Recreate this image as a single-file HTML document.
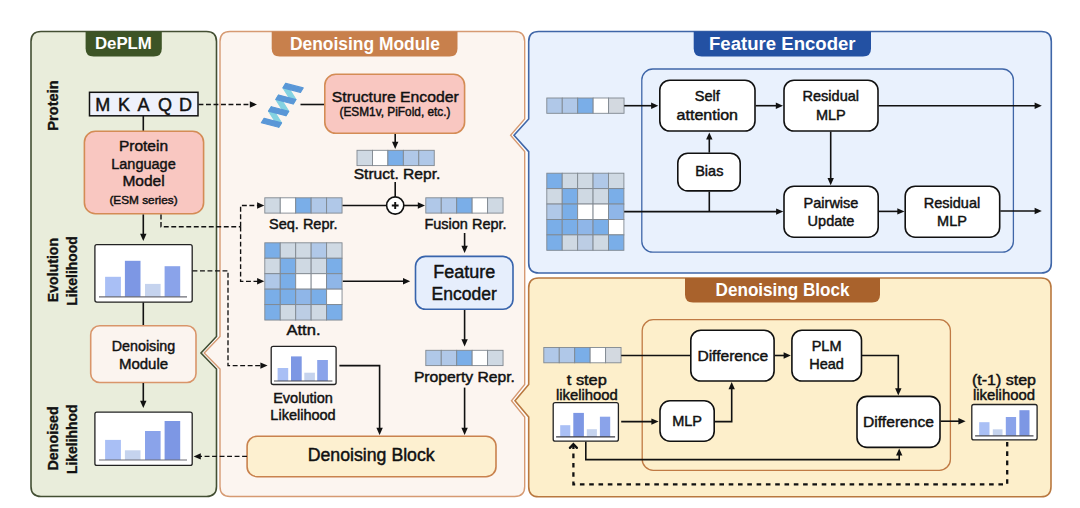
<!DOCTYPE html>
<html><head><meta charset="utf-8"><title>DePLM</title>
<style>
html,body{margin:0;padding:0;background:#fff;}
body{width:1080px;height:508px;overflow:hidden;font-family:"Liberation Sans",sans-serif;}
svg{display:block;}
svg text{font-family:"Liberation Sans",sans-serif;}
</style></head><body>
<svg width="1080" height="508" viewBox="0 0 1080 508">
<rect width="1080" height="508" fill="#ffffff"/>
<path d="M41,31.5 H206.5 Q216.5,31.5 216.5,41.5 V336.5 L201,353 L216.5,369 V486.5 Q216.5,496.5 206.5,496.5 H41 Q31,496.5 31,486.5 V41.5 Q31,31.5 41,31.5 Z" fill="#e9eddb" stroke="#434f33" stroke-width="1.6"/>
<path d="M230,31.5 H514.7 Q524.7,31.5 524.7,41.5 V119 L510.6,135.3 L524.7,151.6 V384.5 L511.5,400.7 L524.7,417 V486.5 Q524.7,496.5 514.7,496.5 H230 Q220,496.5 220,486.5 V369 L204.2,353 L220,336.5 V41.5 Q220,31.5 230,31.5 Z" fill="#fcf5f0" stroke="#d69a72" stroke-width="1.4"/>
<path d="M538.7,31.5 H1041.3 Q1051.3,31.5 1051.3,41.5 V263 Q1051.3,273 1041.3,273 H538.7 Q528.7,273 528.7,263 V151.6 L514,135.3 L528.7,119 V41.5 Q528.7,31.5 538.7,31.5 Z" fill="#e9f1fd" stroke="#3f66a8" stroke-width="1.6"/>
<path d="M538.7,278 H1041 Q1051,278 1051,288 V486.8 Q1051,496.8 1041,496.8 H538.7 Q528.7,496.8 528.7,486.8 V417 L515,400.7 L528.7,384.5 V288 Q528.7,278 538.7,278 Z" fill="#fdefcb" stroke="#b9783f" stroke-width="1.6"/>
<path d="M85.6,31.5 H161.8 V48.5 Q161.8,56.5 153.8,56.5 H93.6 Q85.6,56.5 85.6,48.5 Z" fill="#3d5426"/>
<path d="M271.7,31.5 H457.5 V48.5 Q457.5,56.5 449.5,56.5 H279.7 Q271.7,56.5 271.7,48.5 Z" fill="#c8804c"/>
<path d="M693.7,31.5 H871 V48.5 Q871,56.5 863,56.5 H701.7 Q693.7,56.5 693.7,48.5 Z" fill="#2351a3"/>
<path d="M685,278 H880 V294.6 Q880,302.6 872,302.6 H693 Q685,302.6 685,294.6 Z" fill="#a9622c"/>
<text x="123.4" y="43.8" font-size="17" font-weight="bold" fill="#fff" text-anchor="middle" dominant-baseline="central" textLength="57" lengthAdjust="spacingAndGlyphs" >DePLM</text>
<text x="364.9" y="44" font-size="17.5" font-weight="bold" fill="#fff" text-anchor="middle" dominant-baseline="central" textLength="150" lengthAdjust="spacingAndGlyphs" >Denoising Module</text>
<text x="782.3" y="44" font-size="17.5" font-weight="bold" fill="#fff" text-anchor="middle" dominant-baseline="central" textLength="146.6" lengthAdjust="spacingAndGlyphs" >Feature Encoder</text>
<text x="782.6" y="290.4" font-size="17.5" font-weight="bold" fill="#fff" text-anchor="middle" dominant-baseline="central" textLength="134" lengthAdjust="spacingAndGlyphs" >Denoising Block</text>
<text transform="translate(58.1,105.5) rotate(-90)" font-size="15" font-weight="bold" fill="#111" stroke="#111" stroke-width="0.35" text-anchor="middle" textLength="50.4" lengthAdjust="spacingAndGlyphs">Protein</text>
<text transform="translate(58.4,270.1) rotate(-90)" font-size="15" font-weight="bold" fill="#111" stroke="#111" stroke-width="0.35" text-anchor="middle" textLength="64.3" lengthAdjust="spacingAndGlyphs">Evolution</text>
<text transform="translate(76.7,271) rotate(-90)" font-size="15" font-weight="bold" fill="#111" stroke="#111" stroke-width="0.35" text-anchor="middle" textLength="69.6" lengthAdjust="spacingAndGlyphs">Likelihood</text>
<text transform="translate(58.4,438.4) rotate(-90)" font-size="15" font-weight="bold" fill="#111" stroke="#111" stroke-width="0.35" text-anchor="middle" textLength="64.3" lengthAdjust="spacingAndGlyphs">Denoised</text>
<text transform="translate(76.7,439.2) rotate(-90)" font-size="15" font-weight="bold" fill="#111" stroke="#111" stroke-width="0.35" text-anchor="middle" textLength="69.6" lengthAdjust="spacingAndGlyphs">Likelihhod</text>
<rect x="89.5" y="92.3" width="108.50" height="23.50" rx="0" fill="#eef1fb" stroke="#111" stroke-width="1.5"/>
<text x="102.8" y="105.2" font-size="18" font-weight="normal" fill="#111" stroke="#111" stroke-width="0.45" text-anchor="middle" dominant-baseline="central" >M</text>
<text x="124" y="105.2" font-size="18" font-weight="normal" fill="#111" stroke="#111" stroke-width="0.45" text-anchor="middle" dominant-baseline="central" >K</text>
<text x="143.4" y="105.2" font-size="18" font-weight="normal" fill="#111" stroke="#111" stroke-width="0.45" text-anchor="middle" dominant-baseline="central" >A</text>
<text x="165.1" y="105.2" font-size="18" font-weight="normal" fill="#111" stroke="#111" stroke-width="0.45" text-anchor="middle" dominant-baseline="central" >Q</text>
<text x="185.6" y="105.2" font-size="18" font-weight="normal" fill="#111" stroke="#111" stroke-width="0.45" text-anchor="middle" dominant-baseline="central" >D</text>
<line x1="143.3" y1="116" x2="143.3" y2="131" stroke="#111" stroke-width="1.6"/>
<rect x="84.4" y="131.3" width="119.20" height="82.40" rx="11" fill="#f9c7c1" stroke="#d48c55" stroke-width="1.6"/>
<text x="143.5" y="145.4" font-size="15.5" font-weight="normal" fill="#111" stroke="#111" stroke-width="0.45" text-anchor="middle" dominant-baseline="central" >Protein</text>
<text x="143.5" y="163.1" font-size="15.5" font-weight="normal" fill="#111" stroke="#111" stroke-width="0.45" text-anchor="middle" dominant-baseline="central" textLength="64.5" lengthAdjust="spacingAndGlyphs" >Language</text>
<text x="143.5" y="180.8" font-size="15.5" font-weight="normal" fill="#111" stroke="#111" stroke-width="0.45" text-anchor="middle" dominant-baseline="central" >Model</text>
<text x="143.5" y="199.6" font-size="11.8" font-weight="normal" fill="#111" stroke="#111" stroke-width="0.45" text-anchor="middle" dominant-baseline="central" >(ESM series)</text>
<path d="M143.30,214.50 L143.30,235.96" fill="none" stroke="#111" stroke-width="1.6"/>
<path d="M143.30,241.00 L140.10,233.80 L146.50,233.80 Z" fill="#111"/>
<rect x="94.9" y="244.7" width="97.3" height="57.4" rx="2" fill="#fff" stroke="#222" stroke-width="1.3"/><rect x="105.1" y="276.8" width="15.80" height="20.10" fill="#a9bff5"/><rect x="124.9" y="260.8" width="15.60" height="36.10" fill="#7d97e4"/><rect x="145" y="283.9" width="15.60" height="13.00" fill="#c5d3ee"/><rect x="164.6" y="266.2" width="15.60" height="30.70" fill="#8aa3ea"/><line x1="99" y1="296.9" x2="187" y2="296.9" stroke="#6c6c74" stroke-width="1.2"/>
<line x1="143.3" y1="302.5" x2="143.3" y2="325.5" stroke="#111" stroke-width="1.6"/>
<rect x="90.7" y="325.8" width="105.30" height="56.70" rx="9" fill="#fbf4ef" stroke="#d9956a" stroke-width="1.6"/>
<text x="143.5" y="345.4" font-size="15" font-weight="normal" fill="#111" stroke="#111" stroke-width="0.45" text-anchor="middle" dominant-baseline="central" textLength="63.5" lengthAdjust="spacingAndGlyphs" >Denoising</text>
<text x="143.5" y="363.1" font-size="15" font-weight="normal" fill="#111" stroke="#111" stroke-width="0.45" text-anchor="middle" dominant-baseline="central" >Module</text>
<path d="M143.30,383.00 L143.30,402.96" fill="none" stroke="#111" stroke-width="1.6"/>
<path d="M143.30,408.00 L140.10,400.80 L146.50,400.80 Z" fill="#111"/>
<rect x="94.9" y="412.1" width="97.3" height="53.3" rx="2" fill="#fff" stroke="#222" stroke-width="1.3"/><rect x="105.1" y="439.9" width="15.80" height="20.10" fill="#a9bff5"/><rect x="124.9" y="450.3" width="15.60" height="9.70" fill="#c5d3ee"/><rect x="145" y="431" width="15.60" height="29.00" fill="#8aa3ea"/><rect x="164.6" y="421" width="15.60" height="39.00" fill="#7d97e4"/><line x1="99" y1="460" x2="187" y2="460" stroke="#6c6c74" stroke-width="1.2"/>
<path d="M198.50,104.50 L251.96,104.50" fill="none" stroke="#111" stroke-width="1.35" stroke-dasharray="4.9,2.6"/>
<path d="M257.00,104.50 L249.80,107.70 L249.80,101.30 Z" fill="#111"/>
<g><path d="M283.03,87.81 L285.77,83.39 L295.95,99.55 L293.21,103.97 Z" fill="#84d2e1" stroke="#84d2e1" stroke-width="1.2" stroke-linejoin="round"/><path d="M275.81,99.47 L278.55,95.05 L288.73,111.21 L285.99,115.63 Z" fill="#84d2e1" stroke="#84d2e1" stroke-width="1.2" stroke-linejoin="round"/><path d="M268.59,111.13 L271.33,106.71 L281.51,122.87 L278.77,127.29 Z" fill="#84d2e1" stroke="#84d2e1" stroke-width="1.2" stroke-linejoin="round"/><path d="M283.03,87.81 L285.77,83.39 L303.17,87.89 L300.43,92.31 Z" fill="#5a97d7" stroke="#5a97d7" stroke-width="1.2" stroke-linejoin="round"/><path d="M275.81,99.47 L278.55,95.05 L295.95,99.55 L293.21,103.97 Z" fill="#5a97d7" stroke="#5a97d7" stroke-width="1.2" stroke-linejoin="round"/><path d="M268.59,111.13 L271.33,106.71 L288.73,111.21 L285.99,115.63 Z" fill="#5a97d7" stroke="#5a97d7" stroke-width="1.2" stroke-linejoin="round"/><path d="M261.37,122.79 L264.11,118.37 L281.51,122.87 L278.77,127.29 Z" fill="#5a97d7" stroke="#5a97d7" stroke-width="1.2" stroke-linejoin="round"/></g>
<line x1="300.5" y1="104.5" x2="325" y2="104.5" stroke="#111" stroke-width="1.6"/>
<rect x="324.8" y="74.3" width="139.80" height="59.00" rx="11" fill="#f9c7c1" stroke="#d48c55" stroke-width="1.6"/>
<text x="395.3" y="96.3" font-size="15.5" font-weight="normal" fill="#111" stroke="#111" stroke-width="0.45" text-anchor="middle" dominant-baseline="central" textLength="127" lengthAdjust="spacingAndGlyphs" >Structure Encoder</text>
<text x="395" y="112.1" font-size="12" font-weight="normal" fill="#111" stroke="#111" stroke-width="0.45" text-anchor="middle" dominant-baseline="central" textLength="111" lengthAdjust="spacingAndGlyphs" >(ESM1v, PiFold, etc.)</text>
<path d="M395.20,134.00 L395.20,143.96" fill="none" stroke="#111" stroke-width="1.6"/>
<path d="M395.20,149.00 L392.00,141.80 L398.40,141.80 Z" fill="#111"/>
<g stroke="#808890" stroke-width="0.9"><rect x="357.00" y="150.30" width="15.45" height="15.30" fill="#cfd9e3"/><rect x="372.45" y="150.30" width="15.45" height="15.30" fill="#ffffff"/><rect x="387.90" y="150.30" width="15.45" height="15.30" fill="#7aaee8"/><rect x="403.35" y="150.30" width="15.45" height="15.30" fill="#b0c8e8"/><rect x="418.80" y="150.30" width="15.45" height="15.30" fill="#b0c8e8"/></g>
<text x="397" y="174.1" font-size="14.5" font-weight="normal" fill="#111" stroke="#111" stroke-width="0.45" text-anchor="middle" dominant-baseline="central" textLength="86.7" lengthAdjust="spacingAndGlyphs" >Struct. Repr.</text>
<line x1="395.2" y1="182" x2="395.2" y2="197" stroke="#111" stroke-width="1.6"/>
<g stroke="#808890" stroke-width="0.9"><rect x="264.80" y="197.80" width="15.45" height="15.30" fill="#cfd9e3"/><rect x="280.25" y="197.80" width="15.45" height="15.30" fill="#ffffff"/><rect x="295.70" y="197.80" width="15.45" height="15.30" fill="#7aaee8"/><rect x="311.15" y="197.80" width="15.45" height="15.30" fill="#b0c8e8"/><rect x="326.60" y="197.80" width="15.45" height="15.30" fill="#b0c8e8"/></g>
<text x="303.3" y="223.7" font-size="14.5" font-weight="normal" fill="#111" stroke="#111" stroke-width="0.45" text-anchor="middle" dominant-baseline="central" >Seq. Repr.</text>
<line x1="342.5" y1="205.5" x2="386.5" y2="205.5" stroke="#111" stroke-width="1.6"/>
<circle cx="395.2" cy="205.5" r="8.6" fill="#fff" stroke="#111" stroke-width="1.6"/>
<path d="M391.8,205.5 H398.6 M395.2,202.1 V208.9" stroke="#111" stroke-width="1.9"/>
<path d="M404.00,205.50 L419.96,205.50" fill="none" stroke="#111" stroke-width="1.6"/>
<path d="M425.00,205.50 L417.80,208.70 L417.80,202.30 Z" fill="#111"/>
<g stroke="#808890" stroke-width="0.9"><rect x="425.80" y="197.80" width="15.45" height="15.30" fill="#b0c8e8"/><rect x="441.25" y="197.80" width="15.45" height="15.30" fill="#b0c8e8"/><rect x="456.70" y="197.80" width="15.45" height="15.30" fill="#7aaee8"/><rect x="472.15" y="197.80" width="15.45" height="15.30" fill="#ffffff"/><rect x="487.60" y="197.80" width="15.45" height="15.30" fill="#cfd9e3"/></g>
<text x="465.5" y="223.7" font-size="14.5" font-weight="normal" fill="#111" stroke="#111" stroke-width="0.45" text-anchor="middle" dominant-baseline="central" >Fusion Repr.</text>
<path d="M464.60,233.00 L464.60,247.96" fill="none" stroke="#111" stroke-width="1.6"/>
<path d="M464.60,253.00 L461.40,245.80 L467.80,245.80 Z" fill="#111"/>
<g stroke="#808890" stroke-width="0.9"><rect x="264.80" y="242.80" width="15.45" height="15.45" fill="#7aaee8"/><rect x="280.25" y="242.80" width="15.45" height="15.45" fill="#cfd9e3"/><rect x="295.70" y="242.80" width="15.45" height="15.45" fill="#cfd9e3"/><rect x="311.15" y="242.80" width="15.45" height="15.45" fill="#b0c8e8"/><rect x="326.60" y="242.80" width="15.45" height="15.45" fill="#cfd9e3"/><rect x="264.80" y="258.25" width="15.45" height="15.45" fill="#cfd9e3"/><rect x="280.25" y="258.25" width="15.45" height="15.45" fill="#7aaee8"/><rect x="295.70" y="258.25" width="15.45" height="15.45" fill="#cfd9e3"/><rect x="311.15" y="258.25" width="15.45" height="15.45" fill="#cfd9e3"/><rect x="326.60" y="258.25" width="15.45" height="15.45" fill="#7aaee8"/><rect x="264.80" y="273.70" width="15.45" height="15.45" fill="#b0c8e8"/><rect x="280.25" y="273.70" width="15.45" height="15.45" fill="#7aaee8"/><rect x="295.70" y="273.70" width="15.45" height="15.45" fill="#ffffff"/><rect x="311.15" y="273.70" width="15.45" height="15.45" fill="#ffffff"/><rect x="326.60" y="273.70" width="15.45" height="15.45" fill="#8fb6e8"/><rect x="264.80" y="289.15" width="15.45" height="15.45" fill="#7aaee8"/><rect x="280.25" y="289.15" width="15.45" height="15.45" fill="#7aaee8"/><rect x="295.70" y="289.15" width="15.45" height="15.45" fill="#8fb6e8"/><rect x="311.15" y="289.15" width="15.45" height="15.45" fill="#7aaee8"/><rect x="326.60" y="289.15" width="15.45" height="15.45" fill="#ffffff"/><rect x="264.80" y="304.60" width="15.45" height="15.45" fill="#7aaee8"/><rect x="280.25" y="304.60" width="15.45" height="15.45" fill="#cfd9e3"/><rect x="295.70" y="304.60" width="15.45" height="15.45" fill="#bccde4"/><rect x="311.15" y="304.60" width="15.45" height="15.45" fill="#cfd9e3"/><rect x="326.60" y="304.60" width="15.45" height="15.45" fill="#7aaee8"/></g>
<text x="303.5" y="329.6" font-size="14.5" font-weight="normal" fill="#111" stroke="#111" stroke-width="0.45" text-anchor="middle" dominant-baseline="central" textLength="34" lengthAdjust="spacingAndGlyphs" >Attn.</text>
<path d="M342.80,281.30 L405.16,281.30" fill="none" stroke="#111" stroke-width="1.6"/>
<path d="M410.20,281.30 L403.00,284.50 L403.00,278.10 Z" fill="#111"/>
<rect x="415.5" y="256.4" width="97.50" height="52.90" rx="10" fill="#e6eefc" stroke="#3864ac" stroke-width="1.6"/>
<text x="464.2" y="271.8" font-size="17.5" font-weight="normal" fill="#111" stroke="#111" stroke-width="0.45" text-anchor="middle" dominant-baseline="central" textLength="62" lengthAdjust="spacingAndGlyphs" >Feature</text>
<text x="464.2" y="293.9" font-size="17.5" font-weight="normal" fill="#111" stroke="#111" stroke-width="0.45" text-anchor="middle" dominant-baseline="central" textLength="65.2" lengthAdjust="spacingAndGlyphs" >Encoder</text>
<path d="M464.60,310.00 L464.60,341.46" fill="none" stroke="#111" stroke-width="1.6"/>
<path d="M464.60,346.50 L461.40,339.30 L467.80,339.30 Z" fill="#111"/>
<g stroke="#808890" stroke-width="0.9"><rect x="425.80" y="350.30" width="15.45" height="15.30" fill="#b0c8e8"/><rect x="441.25" y="350.30" width="15.45" height="15.30" fill="#b0c8e8"/><rect x="456.70" y="350.30" width="15.45" height="15.30" fill="#7aaee8"/><rect x="472.15" y="350.30" width="15.45" height="15.30" fill="#ffffff"/><rect x="487.60" y="350.30" width="15.45" height="15.30" fill="#cfd9e3"/></g>
<text x="464.4" y="376.5" font-size="14.5" font-weight="normal" fill="#111" stroke="#111" stroke-width="0.45" text-anchor="middle" dominant-baseline="central" textLength="101" lengthAdjust="spacingAndGlyphs" >Property Repr.</text>
<path d="M464.60,387.60 L464.60,429.96" fill="none" stroke="#111" stroke-width="1.6"/>
<path d="M464.60,435.00 L461.40,427.80 L467.80,427.80 Z" fill="#111"/>
<path d="M161,214.5 V226.7 H240.6" fill="none" stroke="#111" stroke-width="1.4" stroke-dasharray="4.9,2.6"/>
<path d="M240.60,226.70 L240.60,205.50 L259.26,205.50" fill="none" stroke="#111" stroke-width="1.35" stroke-dasharray="4.9,2.6"/>
<path d="M264.30,205.50 L257.10,208.70 L257.10,202.30 Z" fill="#111"/>
<path d="M240.60,226.70 L240.60,281.30 L259.26,281.30" fill="none" stroke="#111" stroke-width="1.35" stroke-dasharray="4.9,2.6"/>
<path d="M264.30,281.30 L257.10,284.50 L257.10,278.10 Z" fill="#111"/>
<path d="M192.50,270.80 L228.00,270.80 L228.00,365.60 L262.56,365.60" fill="none" stroke="#111" stroke-width="1.35" stroke-dasharray="4.9,2.6"/>
<path d="M267.60,365.60 L260.40,368.80 L260.40,362.40 Z" fill="#111"/>
<rect x="271.2" y="346.3" width="64.9" height="38.2" rx="2" fill="#fff" stroke="#222" stroke-width="1.3"/><rect x="277.6" y="368" width="10.60" height="13.00" fill="#a9bff5"/><rect x="291" y="356.4" width="10.70" height="24.60" fill="#7d97e4"/><rect x="304.3" y="372.7" width="10.60" height="8.30" fill="#c5d3ee"/><rect x="317.2" y="360" width="10.70" height="21.00" fill="#8aa3ea"/><line x1="274" y1="381" x2="332.4" y2="381" stroke="#4a4a52" stroke-width="1.2"/>
<text x="303" y="398.2" font-size="14.5" font-weight="normal" fill="#111" stroke="#111" stroke-width="0.45" text-anchor="middle" dominant-baseline="central" >Evolution</text>
<text x="303" y="414.7" font-size="14.5" font-weight="normal" fill="#111" stroke="#111" stroke-width="0.45" text-anchor="middle" dominant-baseline="central" >Likelihood</text>
<path d="M339.40,365.60 L379.60,365.60 L379.60,429.96" fill="none" stroke="#111" stroke-width="1.6"/>
<path d="M379.60,435.00 L376.40,427.80 L382.80,427.80 Z" fill="#111"/>
<rect x="247.1" y="436.2" width="248.90" height="40.50" rx="10" fill="#fdf0d0" stroke="#c9824e" stroke-width="1.6"/>
<text x="371.2" y="455" font-size="17.5" font-weight="normal" fill="#111" stroke="#111" stroke-width="0.45" text-anchor="middle" dominant-baseline="central" textLength="127" lengthAdjust="spacingAndGlyphs" >Denoising Block</text>
<path d="M247.00,456.40 L198.64,456.40" fill="none" stroke="#111" stroke-width="1.35" stroke-dasharray="4.9,2.6"/>
<path d="M193.60,456.40 L200.80,453.20 L200.80,459.60 Z" fill="#111"/>
<rect x="641.8" y="69" width="371.60" height="183.20" rx="11" fill="none" stroke="#3f66a8" stroke-width="1.3"/>
<g stroke="#808890" stroke-width="0.9"><rect x="546.80" y="98.00" width="15.45" height="15.30" fill="#b0c8e8"/><rect x="562.25" y="98.00" width="15.45" height="15.30" fill="#b0c8e8"/><rect x="577.70" y="98.00" width="15.45" height="15.30" fill="#7aaee8"/><rect x="593.15" y="98.00" width="15.45" height="15.30" fill="#ffffff"/><rect x="608.60" y="98.00" width="15.45" height="15.30" fill="#d3d9e0"/></g>
<path d="M624.20,105.70 L653.26,105.70" fill="none" stroke="#111" stroke-width="1.6"/>
<path d="M658.30,105.70 L651.10,108.90 L651.10,102.50 Z" fill="#111"/>
<rect x="659.8" y="80.2" width="95.20" height="50.80" rx="10" fill="#fff" stroke="#111" stroke-width="1.6"/>
<text x="707.3" y="96" font-size="14.5" font-weight="normal" fill="#111" stroke="#111" stroke-width="0.45" text-anchor="middle" dominant-baseline="central" >Self</text>
<text x="707.3" y="114.5" font-size="14.5" font-weight="normal" fill="#111" stroke="#111" stroke-width="0.45" text-anchor="middle" dominant-baseline="central" textLength="61.4" lengthAdjust="spacingAndGlyphs" >attention</text>
<path d="M755.60,105.70 L777.96,105.70" fill="none" stroke="#111" stroke-width="1.6"/>
<path d="M783.00,105.70 L775.80,108.90 L775.80,102.50 Z" fill="#111"/>
<rect x="784" y="80.2" width="94.00" height="50.80" rx="10" fill="#fff" stroke="#111" stroke-width="1.6"/>
<text x="830.8" y="96" font-size="14.5" font-weight="normal" fill="#111" stroke="#111" stroke-width="0.45" text-anchor="middle" dominant-baseline="central" >Residual</text>
<text x="830.8" y="114.5" font-size="14.5" font-weight="normal" fill="#111" stroke="#111" stroke-width="0.45" text-anchor="middle" dominant-baseline="central" >MLP</text>
<path d="M878.60,105.70 L1036.76,105.70" fill="none" stroke="#111" stroke-width="1.6"/>
<path d="M1041.80,105.70 L1034.60,108.90 L1034.60,102.50 Z" fill="#111"/>
<path d="M830.70,131.60 L830.70,180.26" fill="none" stroke="#111" stroke-width="1.6"/>
<path d="M830.70,185.30 L827.50,178.10 L833.90,178.10 Z" fill="#111"/>
<g stroke="#808890" stroke-width="0.9"><rect x="546.80" y="173.20" width="15.42" height="15.42" fill="#7aaee8"/><rect x="562.22" y="173.20" width="15.42" height="15.42" fill="#cfd9e3"/><rect x="577.64" y="173.20" width="15.42" height="15.42" fill="#cfd9e3"/><rect x="593.06" y="173.20" width="15.42" height="15.42" fill="#b0c8e8"/><rect x="608.48" y="173.20" width="15.42" height="15.42" fill="#cfd9e3"/><rect x="546.80" y="188.62" width="15.42" height="15.42" fill="#cfd9e3"/><rect x="562.22" y="188.62" width="15.42" height="15.42" fill="#7aaee8"/><rect x="577.64" y="188.62" width="15.42" height="15.42" fill="#cfd9e3"/><rect x="593.06" y="188.62" width="15.42" height="15.42" fill="#cfd9e3"/><rect x="608.48" y="188.62" width="15.42" height="15.42" fill="#7aaee8"/><rect x="546.80" y="204.04" width="15.42" height="15.42" fill="#b0c8e8"/><rect x="562.22" y="204.04" width="15.42" height="15.42" fill="#7aaee8"/><rect x="577.64" y="204.04" width="15.42" height="15.42" fill="#ffffff"/><rect x="593.06" y="204.04" width="15.42" height="15.42" fill="#ffffff"/><rect x="608.48" y="204.04" width="15.42" height="15.42" fill="#8fb6e8"/><rect x="546.80" y="219.46" width="15.42" height="15.42" fill="#7aaee8"/><rect x="562.22" y="219.46" width="15.42" height="15.42" fill="#7aaee8"/><rect x="577.64" y="219.46" width="15.42" height="15.42" fill="#8fb6e8"/><rect x="593.06" y="219.46" width="15.42" height="15.42" fill="#7aaee8"/><rect x="608.48" y="219.46" width="15.42" height="15.42" fill="#ffffff"/><rect x="546.80" y="234.88" width="15.42" height="15.42" fill="#7aaee8"/><rect x="562.22" y="234.88" width="15.42" height="15.42" fill="#cfd9e3"/><rect x="577.64" y="234.88" width="15.42" height="15.42" fill="#bccde4"/><rect x="593.06" y="234.88" width="15.42" height="15.42" fill="#cfd9e3"/><rect x="608.48" y="234.88" width="15.42" height="15.42" fill="#7aaee8"/></g>
<path d="M624.20,211.60 L778.26,211.60" fill="none" stroke="#111" stroke-width="1.6"/>
<path d="M783.30,211.60 L776.10,214.80 L776.10,208.40 Z" fill="#111"/>
<rect x="677.8" y="153.2" width="62.40" height="37.70" rx="10" fill="#fff" stroke="#111" stroke-width="1.6"/>
<text x="709.3" y="171.2" font-size="14.5" font-weight="normal" fill="#111" stroke="#111" stroke-width="0.45" text-anchor="middle" dominant-baseline="central" >Bias</text>
<path d="M709.30,152.60 L709.30,137.44" fill="none" stroke="#111" stroke-width="1.6"/>
<path d="M709.30,132.40 L712.50,139.60 L706.10,139.60 Z" fill="#111"/>
<line x1="709.3" y1="191.5" x2="709.3" y2="211.6" stroke="#111" stroke-width="1.6"/>
<rect x="784" y="186.2" width="94.20" height="51.00" rx="10" fill="#fff" stroke="#111" stroke-width="1.6"/>
<text x="831" y="202.6" font-size="14.5" font-weight="normal" fill="#111" stroke="#111" stroke-width="0.45" text-anchor="middle" dominant-baseline="central" >Pairwise</text>
<text x="831" y="220.9" font-size="14.5" font-weight="normal" fill="#111" stroke="#111" stroke-width="0.45" text-anchor="middle" dominant-baseline="central" >Update</text>
<path d="M878.80,211.40 L899.46,211.40" fill="none" stroke="#111" stroke-width="1.6"/>
<path d="M904.50,211.40 L897.30,214.60 L897.30,208.20 Z" fill="#111"/>
<rect x="905.2" y="186.2" width="94.50" height="51.00" rx="10" fill="#fff" stroke="#111" stroke-width="1.6"/>
<text x="952" y="202.6" font-size="14.5" font-weight="normal" fill="#111" stroke="#111" stroke-width="0.45" text-anchor="middle" dominant-baseline="central" >Residual</text>
<text x="952" y="220.5" font-size="14.5" font-weight="normal" fill="#111" stroke="#111" stroke-width="0.45" text-anchor="middle" dominant-baseline="central" >MLP</text>
<path d="M1000.30,211.00 L1036.76,211.00" fill="none" stroke="#111" stroke-width="1.6"/>
<path d="M1041.80,211.00 L1034.60,214.20 L1034.60,207.80 Z" fill="#111"/>
<rect x="642.2" y="319.7" width="308.20" height="150.60" rx="11" fill="none" stroke="#c07a44" stroke-width="1.3"/>
<g stroke="#808890" stroke-width="0.9"><rect x="543.80" y="347.50" width="15.45" height="15.30" fill="#b0c8e8"/><rect x="559.25" y="347.50" width="15.45" height="15.30" fill="#b0c8e8"/><rect x="574.70" y="347.50" width="15.45" height="15.30" fill="#7aaee8"/><rect x="590.15" y="347.50" width="15.45" height="15.30" fill="#ffffff"/><rect x="605.60" y="347.50" width="15.45" height="15.30" fill="#d3d9e0"/></g>
<line x1="621.2" y1="355.5" x2="690.5" y2="355.5" stroke="#111" stroke-width="1.6"/>
<rect x="690.8" y="330.2" width="83.30" height="50.80" rx="10" fill="#fff" stroke="#111" stroke-width="1.6"/>
<text x="732.8" y="355.2" font-size="15" font-weight="normal" fill="#111" stroke="#111" stroke-width="0.45" text-anchor="middle" dominant-baseline="central" textLength="70.8" lengthAdjust="spacingAndGlyphs" >Difference</text>
<path d="M774.70,355.50 L785.76,355.50" fill="none" stroke="#111" stroke-width="1.6"/>
<path d="M790.80,355.50 L783.60,358.70 L783.60,352.30 Z" fill="#111"/>
<rect x="791.9" y="330.2" width="69.60" height="50.80" rx="10" fill="#fff" stroke="#111" stroke-width="1.6"/>
<text x="826.6" y="345.6" font-size="14.5" font-weight="normal" fill="#111" stroke="#111" stroke-width="0.45" text-anchor="middle" dominant-baseline="central" >PLM</text>
<text x="826.6" y="363.7" font-size="14.5" font-weight="normal" fill="#111" stroke="#111" stroke-width="0.45" text-anchor="middle" dominant-baseline="central" >Head</text>
<path d="M862.00,355.50 L898.30,355.50 L898.30,390.46" fill="none" stroke="#111" stroke-width="1.6"/>
<path d="M898.30,395.50 L895.10,388.30 L901.50,388.30 Z" fill="#111"/>
<text x="586.8" y="379.5" font-size="14.5" font-weight="normal" fill="#111" stroke="#111" stroke-width="0.45" text-anchor="middle" dominant-baseline="central" textLength="40" lengthAdjust="spacingAndGlyphs" >t step</text>
<text x="586.8" y="395" font-size="14.5" font-weight="normal" fill="#111" stroke="#111" stroke-width="0.45" text-anchor="middle" dominant-baseline="central" textLength="61.8" lengthAdjust="spacingAndGlyphs" >likelihood</text>
<rect x="553.2" y="402.6" width="65.2" height="38.6" rx="2" fill="#fff" stroke="#222" stroke-width="1.3"/><rect x="560.2" y="425.2" width="10.10" height="11.60" fill="#a9bff5"/><rect x="573.3" y="412.9" width="10.60" height="23.90" fill="#7d97e4"/><rect x="586.8" y="429.2" width="10.10" height="7.60" fill="#c5d3ee"/><rect x="599.9" y="416.7" width="10.30" height="20.10" fill="#8aa3ea"/><line x1="556.1" y1="436.8" x2="615.1" y2="436.8" stroke="#3a3a42" stroke-width="1.2"/>
<path d="M621.20,421.60 L653.56,421.60" fill="none" stroke="#111" stroke-width="1.6"/>
<path d="M658.60,421.60 L651.40,424.80 L651.40,418.40 Z" fill="#111"/>
<rect x="660" y="400.8" width="54.20" height="40.40" rx="10" fill="#fff" stroke="#111" stroke-width="1.6"/>
<text x="687.1" y="421" font-size="14.5" font-weight="normal" fill="#111" stroke="#111" stroke-width="0.45" text-anchor="middle" dominant-baseline="central" >MLP</text>
<path d="M714.80,421.60 L731.70,421.60 L731.70,387.04" fill="none" stroke="#111" stroke-width="1.6"/>
<path d="M731.70,382.00 L734.90,389.20 L728.50,389.20 Z" fill="#111"/>
<rect x="857" y="396.4" width="83.00" height="51.00" rx="10" fill="#fff" stroke="#111" stroke-width="1.6"/>
<text x="898.5" y="421.3" font-size="15" font-weight="normal" fill="#111" stroke="#111" stroke-width="0.45" text-anchor="middle" dominant-baseline="central" textLength="70.8" lengthAdjust="spacingAndGlyphs" >Difference</text>
<path d="M585.80,441.80 L585.80,459.60 L899.20,459.60 L899.20,453.44" fill="none" stroke="#111" stroke-width="1.6"/>
<path d="M899.20,448.40 L902.40,455.60 L896.00,455.60 Z" fill="#111"/>
<path d="M940.60,421.20 L960.56,421.20" fill="none" stroke="#111" stroke-width="1.6"/>
<path d="M965.60,421.20 L958.40,424.40 L958.40,418.00 Z" fill="#111"/>
<text x="1004" y="379.5" font-size="14.5" font-weight="normal" fill="#111" stroke="#111" stroke-width="0.45" text-anchor="middle" dominant-baseline="central" textLength="63.9" lengthAdjust="spacingAndGlyphs" >(t-1) step</text>
<text x="1004" y="395" font-size="14.5" font-weight="normal" fill="#111" stroke="#111" stroke-width="0.45" text-anchor="middle" dominant-baseline="central" textLength="62" lengthAdjust="spacingAndGlyphs" >likelihood</text>
<rect x="971.8" y="404.5" width="65.3" height="35.4" rx="2" fill="#fff" stroke="#222" stroke-width="1.3"/><rect x="979.2" y="422.2" width="10.30" height="13.60" fill="#a9bff5"/><rect x="992.8" y="429.3" width="9.70" height="6.50" fill="#c5d3ee"/><rect x="1005.8" y="417" width="10.30" height="18.80" fill="#8aa3ea"/><rect x="1019.4" y="410.2" width="10.10" height="25.60" fill="#7d97e4"/><line x1="975.1" y1="435.8" x2="1033.5" y2="435.8" stroke="#4a4a52" stroke-width="1.2"/>
<path d="M1007.2,442 V484.3 H573.4 V445.5" fill="none" stroke="#111" stroke-width="2.3" stroke-dasharray="4.6,4.7"/>
<path d="M569.9,447.9 L573.4,444.2 L576.9,447.9" fill="none" stroke="#111" stroke-width="2.3" stroke-linejoin="miter" stroke-linecap="round"/>
</svg>
</body></html>
